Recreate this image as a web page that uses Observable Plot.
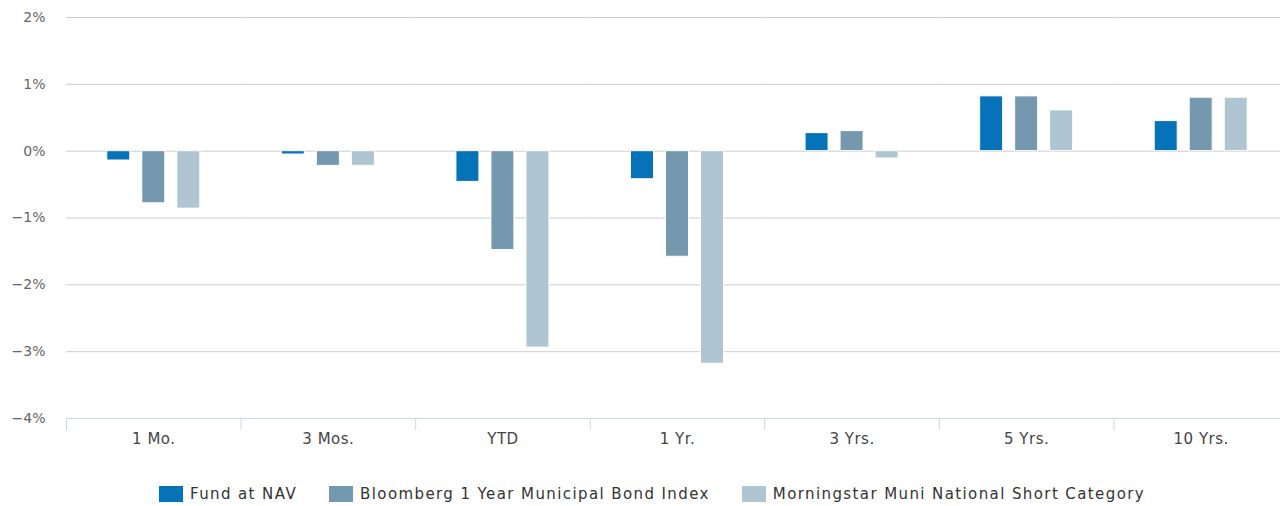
<!DOCTYPE html>
<html>
<head>
<meta charset="utf-8">
<script src="https://cdn.jsdelivr.net/npm/d3@7"></script>
<script src="https://cdn.jsdelivr.net/npm/@observablehq/plot@0.6"></script>
<style>
  html, body { margin: 0; padding: 0; background: #fff; overflow: hidden; width: 1280px; height: 506px; }
  #chart { width: 1280px; overflow: hidden; }
  #chart svg { display: block; max-width: none !important; }
  #chart g[aria-label="fx-axis tick label"] text { letter-spacing: 0.5px; }
  #legend { display: flex; justify-content: center; align-items: center; margin-top: 19px; padding-left: 24px; width: 1280px; box-sizing: border-box;
    font-family: "DejaVu Sans", sans-serif; font-size: 15px; letter-spacing: 1.4px; color: #333; }
  .item { display: flex; align-items: center; margin: 0 16px; }
  .sw { width: 24px; height: 16px; margin-right: 7px; }
</style>
</head>
<body>
<div id="chart"></div>
<div id="legend"></div>
<script>
const categories = ["1 Mo.", "3 Mos.", "YTD", "1 Yr.", "3 Yrs.", "5 Yrs.", "10 Yrs."];
const series = ["Fund at NAV", "Bloomberg 1 Year Municipal Bond Index", "Morningstar Muni National Short Category"];
const fundValues = [-0.14, -0.05, -0.46, -0.42, 0.27, 0.82, 0.45];
const indexValues = [-0.78, -0.22, -1.48, -1.58, 0.30, 0.82, 0.80];
const categoryValues = [-0.86, -0.22, -2.94, -3.18, -0.11, 0.61, 0.80];
const colors = ["#0673b8", "#7499af", "#afc6d2"];
const yTicks = [-4, -3, -2, -1, 0, 1, 2];

const seriesValues = [fundValues, indexValues, categoryValues];
const data = categories.flatMap((c, i) =>
  seriesValues.map((vals, j) => ({ period: c, series: series[j], value: vals[i] }))
);

const fmt = d => (d < 0 ? "\u2212" + (-d) : String(d)) + "%";

const chart = Plot.plot({
  width: 1288,
  height: 466,
  marginLeft: 66,
  marginRight: 0,
  marginTop: 17,
  marginBottom: 37,
  style: { fontFamily: "DejaVu Sans, sans-serif", background: "#fff", maxWidth: "none" },
  fx: { domain: categories, padding: 0, label: null, round: false },
  x: { domain: series, paddingInner: 0.343, paddingOuter: 1.165, axis: null, round: false },
  y: { domain: [-4, 2], insetBottom: 11, label: null },
  color: { domain: series, range: colors },
  marks: [
    Plot.ruleY(yTicks.filter(d => d > -4), { stroke: "#cccccc", strokeWidth: 1 }),
    Plot.ruleY([-4], { stroke: "#ccd6eb", strokeWidth: 1 }),
    Plot.frame({ anchor: "left", stroke: "#ccd6eb", insetTop: 401 }),
    Plot.barY(data, { fx: "period", x: "series", y: "value", fill: "series", stroke: "white", strokeWidth: 1 }),
    Plot.axisY({ ticks: yTicks, tickSize: 0, tickPadding: 21, tickFormat: fmt, fontSize: 14, color: "#666", label: null }),
    Plot.axisFx({ anchor: "bottom", tickSize: 0, tickPadding: 4, fontSize: 15, color: "#444", label: null })
  ]
});
document.getElementById("chart").appendChild(chart);

const legend = document.getElementById("legend");
series.forEach((s, i) => {
  const item = document.createElement("div");
  item.className = "item";
  const sw = document.createElement("div");
  sw.className = "sw";
  sw.style.background = colors[i];
  const t = document.createElement("span");
  t.textContent = s;
  item.appendChild(sw);
  item.appendChild(t);
  legend.appendChild(item);
});
</script>
</body>
</html>
